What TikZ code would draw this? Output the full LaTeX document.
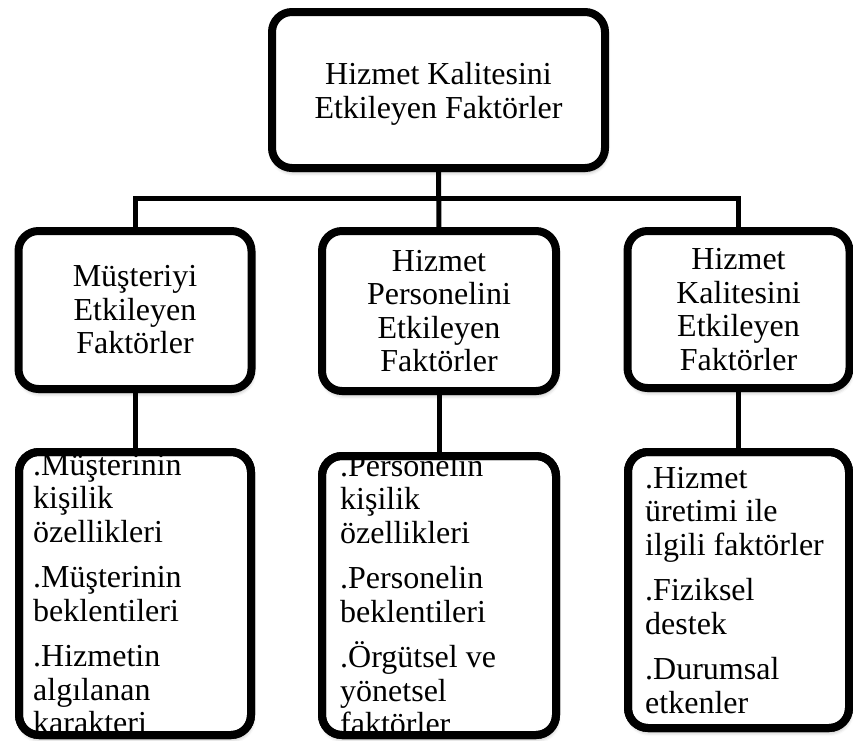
\documentclass[tikz,border=0pt]{standalone}
\usepackage{fontspec}
\setmainfont{Liberation Serif}
\usetikzlibrary{shadows.blur}
\tikzset{
    box/.style = {draw, line width=8pt, rounded corners=20pt, fill=white,
        blur shadow={shadow xshift=1pt, shadow yshift=-4pt, shadow blur radius=4pt, shadow opacity=35},
        inner sep=0pt, outer sep=0pt, align=center},
    frame/.style = {draw, line width=8pt, rounded corners=20pt},
    link/.style = {draw, line width=5pt},
    itemlist/.style = {align=left, anchor=north west, inner sep=0pt},
}
\begin{document}
\begin{tikzpicture}[x=1pt, y=-1pt, font=\fontsize{32}{33.5}\selectfont]
    \useasboundingbox (0,0) rectangle (853,740);

    \node[box, minimum width=333pt, minimum height=156pt] (top) at (438.5, 90) {};
    \node[align=center, inner sep=0pt] (topText) at (438.5, 94) {Hizmet Kalitesini\\Etkileyen Faktörler};

    \node[box, minimum width=233pt, minimum height=158pt] (customer) at (135, 310) {Müşteriyi\\Etkileyen\\Faktörler};
    \node[box, minimum width=234pt, minimum height=160pt] (staff) at (439, 311) {Hizmet\\Personelini\\Etkileyen\\Faktörler};
    \node[box, minimum width=222pt, minimum height=157pt] (quality) at (738.5, 309.5) {Hizmet\\Kalitesini\\Etkileyen\\Faktörler};

    \node[box, minimum width=232pt, minimum height=283pt] (customerList) at (135, 593.5) {};
    \node[box, minimum width=234pt, minimum height=279pt] (staffList) at (439, 595.5) {};
    \node[box, minimum width=221pt, minimum height=276pt] (qualityList) at (738.5, 590) {};

    \node[itemlist] (customerItems) at (33, 454) {.Müşterinin\\kişilik\\özellikleri\\[12pt].Müşterinin\\beklentileri\\[12pt].Hizmetin\\algılanan\\karakteri};
    \node[itemlist] (staffItems) at (340, 454) {.Personelin\\kişilik\\özellikleri\\[12pt].Personelin\\beklentileri\\[12pt].Örgütsel ve\\yönetsel\\faktörler};
    \node[itemlist] (qualityItems) at (645, 467) {.Hizmet\\üretimi ile\\ilgili faktörler\\[12pt].Fiziksel\\destek\\[12pt].Durumsal\\etkenler};

    % borders again over the lists
    \draw[frame] (customerList.north west) rectangle (customerList.south east);
    \draw[frame] (staffList.north west) rectangle (staffList.south east);
    \draw[frame] (qualityList.north west) rectangle (qualityList.south east);

    \draw[link] (top.south) -- ++(0,30) -| (customer.north);
    \draw[link] (top.south) -- ++(0,30) -| (quality.north);
    \draw[link] (top.south) -- (staff.north);
    \draw[link] (customer) -- (customerList);
    \draw[link] (staff) -- (staffList);
    \draw[link] (quality) -- (qualityList);
\end{tikzpicture}
\end{document}
